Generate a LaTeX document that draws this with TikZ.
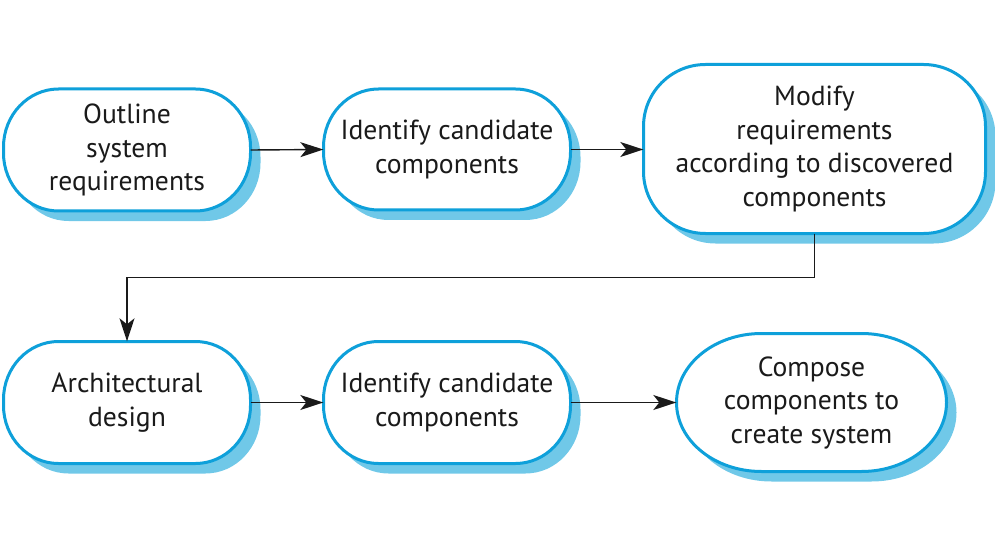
\documentclass[tikz,border=0pt]{standalone}
\usepackage{fontspec}
\setmainfont{PT Sans}
\usetikzlibrary{arrows.meta}

\definecolor{edgeblue}{RGB}{14,160,218}
\definecolor{shadeblue}{RGB}{112,200,232}
\definecolor{inkblack}{RGB}{26,26,26}

\tikzset{
  boxtext/.style={draw=none, inner sep=0pt, align=center, text=inkblack,
    font=\fontsize{27.6}{33.5}\selectfont},
  boxedge/.style={fill=white, draw=edgeblue, line width=3pt},
  boxshade/.style={fill=shadeblue},
  flowarrow/.style={draw=inkblack, line width=1.4pt,
    -{Stealth[length=23pt, width=15pt, inset=6pt]}},
}

% Rounded box with elliptic corners and an offset shadow.
% #1 name, #2 cx, #3 cy, #4 width, #5 height, #6 corner x-radius, #7 corner y-radius, #8 text
\newcommand\roundpath[7]{%
  ({#1-#3/2+#5},{#2+#4/2}) -- ({#1+#3/2-#5},{#2+#4/2})
  arc[start angle=90, end angle=0, x radius=#5, y radius=#6]
  -- ({#1+#3/2},{#2-#4/2+#6})
  arc[start angle=0, end angle=-90, x radius=#5, y radius=#6]
  -- ({#1-#3/2+#5},{#2-#4/2})
  arc[start angle=270, end angle=180, x radius=#5, y radius=#6]
  -- ({#1-#3/2},{#2+#4/2-#6})
  arc[start angle=180, end angle=90, x radius=#5, y radius=#6]
  -- cycle}
\newcommand\flowbox[8]{%
  \path[boxshade] \roundpath{#2+10}{#3-10}{#4}{#5}{#6}{#7}{};
  \path[boxedge] \roundpath{#2}{#3}{#4}{#5}{#6}{#7}{};
  \node[boxtext, minimum width=#4 pt, minimum height=#5 pt] (#1) at (#2,#3) {#8};
}

\begin{document}
\begin{tikzpicture}[x=1pt, y=1pt]
  \useasboundingbox (0,0) rectangle (995,547);

  \flowbox{outline}{127}{397}{247}{122}{55}{58}{Outline\\system\\requirements}
  \flowbox{identA}{447}{397.5}{247}{121}{55}{58}{Identify candidate\\components}
  \flowbox{modify}{814.5}{398}{342}{169}{62}{62}{Modify\\requirements\\according to discovered\\components}
  \flowbox{arch}{127}{144.5}{247}{122}{55}{58}{Architectural\\design}
  \flowbox{identB}{447}{144.5}{247}{122}{55}{58}{Identify candidate\\components}
  \flowbox{compose}{811.5}{144.5}{270}{138}{85}{69}{Compose\\components to\\create system}

  \draw[flowarrow] (outline.east) -- (identA.west);
  \draw[flowarrow] (identA.east) -- (modify.west |- identA.east);
  \draw[flowarrow] (modify.south) -- ++(0,-44) -| (arch.north);
  \draw[flowarrow] (arch.east) -- (identB.west);
  \draw[flowarrow] (identB.east) -- (compose.west |- identB.east);
\end{tikzpicture}
\end{document}
